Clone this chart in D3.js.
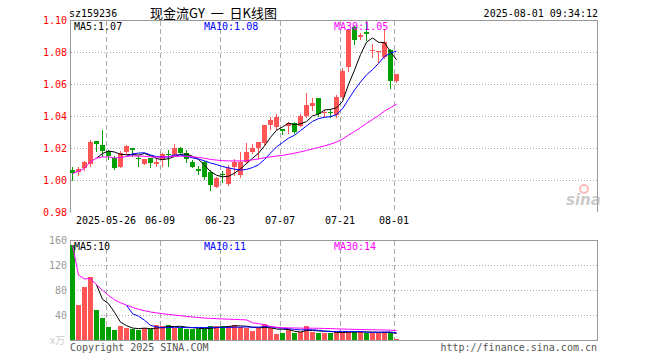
<!DOCTYPE html>
<html>
<head>
<meta charset="utf-8">
<script src="https://cdn.jsdelivr.net/npm/d3@7"></script>
<style>
  body { margin: 0; background: #fff; }
  svg { display: block; font-family: "DejaVu Sans Mono", monospace; }
</style>
</head>
<body>
<svg id="chart" width="660" height="360"></svg>
<script>
// daily candles, index 0 = first trading day shown
var opens  = [1.006,1.005,1.007,1.010,1.0245,1.022,1.018,1.014,1.008,1.017,
              1.020,1.0135,1.010,1.0135,1.010,1.012,1.016,1.0155,1.020,1.017,
              1.0115,1.007,1.0115,1.005,0.996,1.0038,0.998,1.0083,1.0027,1.0115,
              1.0177,1.020,1.0233,1.0348,1.0335,1.0317,1.0333,1.0354,1.034,1.040,
              1.0464,1.051,1.042,1.0425,1.0406,1.052,1.0706,1.0955,1.0895,1.0925,
              1.0808,1.080,1.077,1.081,1.0615];
var highs  = [1.008,1.008,1.012,1.025,1.0245,1.031,1.019,1.015,1.018,1.022,
              1.020,1.015,1.013,1.014,1.013,1.017,1.019,1.0225,1.0205,1.019,
              1.0125,1.0085,1.012,1.0063,1.002,1.0055,1.0094,1.013,1.0177,1.023,
              1.0223,1.024,1.0345,1.0395,1.041,1.032,1.0364,1.036,1.0415,1.0546,
              1.051,1.0515,1.0438,1.0444,1.053,1.0698,1.0944,1.0965,1.092,1.0994,
              1.0848,1.0805,1.094,1.082,1.066];
var lows   = [1.000,1.003,1.006,1.009,1.018,1.015,1.013,1.007,1.008,1.016,
              1.015,1.009,1.010,1.008,1.009,1.009,1.009,1.0155,1.0165,1.011,
              1.008,1.004,1.0005,0.994,0.9955,0.999,0.997,1.003,1.002,1.0105,
              1.0167,1.014,1.0228,1.032,1.032,1.029,1.0296,1.0295,1.0335,1.0395,
              1.0438,1.040,1.0396,1.0396,1.0396,1.051,1.068,1.085,1.088,1.0875,
              1.077,1.074,1.076,1.0573,1.061];
var closes = [1.004,1.007,1.011,1.024,1.0225,1.018,1.015,1.008,1.017,1.021,
              1.019,1.0128,1.013,1.0105,1.0115,1.016,1.0155,1.020,1.017,1.013,
              1.0085,1.006,1.002,0.997,1.0015,1.0035,1.0077,1.0115,1.011,1.0177,
              1.020,1.0235,1.0344,1.0378,1.0395,1.0305,1.0354,1.0298,1.040,1.0469,
              1.0483,1.041,1.0425,1.042,1.052,1.068,1.0938,1.0875,1.0905,1.091,
              1.081,1.0805,1.0865,1.0615,1.066];
// volume in 万
var volumes = [152,56,85,101,48,36,21,16,22,20,
               17,16,20,18,24,22,24,20,20,17,
               18,18,18,22,23,22,23,24,21,20,
               14,19,26,19,10,12,17,12,13,22,
               13,12,11,12,13,13,13,13,13,12,
               12,12,13,13,1.6];

var dateTicks = ["2025-05-26","06-09","06-23","07-07","07-21","08-01"];
var dateTickIdx = [6,15,25,35,45,54];
var priceTicks = [1.10,1.08,1.06,1.04,1.02,1.00,0.98];
var volTicks = [160,120,80,40];
var maLabels = ["MA5:1.07","MA10:1.08","MA30:1.05"];
var volMaLabels = ["MA5:10","MA10:11","MA30:14"];

var RED = "#ff5555", GREEN = "#00a000";
var maColors = ["#000000","#0000ff","#ff00ff"];

var svg = d3.select("#chart");

var x = d3.scaleLinear().domain([0, 88]).range([70, 598]);
var yPrice = d3.scaleLinear().domain([0.98, 1.10]).range([212, 20]);
var yVol = d3.scaleLinear().domain([0, 160]).range([340, 240]);

// average of the last n values; MA30 uses what is available at the start
function movingAvg(arr, n, fromStart) {
  return arr.map(function (d, i) {
    if (i < n - 1 && !fromStart) return null;
    return d3.mean(arr.slice(Math.max(0, i - n + 1), i + 1));
  });
}

function isUp(i) { return closes[i] >= opens[i]; }

drawFrames();
drawCandles();
drawVolume();
drawTexts();

function drawFrames() {
  var g = svg.append("g").attr("shape-rendering", "crispEdges");

  // horizontal dotted grid
  g.selectAll(".pgrid")
    .data(priceTicks.slice(1, 6))
    .enter()
    .append("line")
    .attr("x1", 71).attr("x2", 597)
    .attr("y1", (d) => Math.round(yPrice(d)) + 0.5)
    .attr("y2", (d) => Math.round(yPrice(d)) + 0.5)
    .attr("stroke", "#aaa")
    .attr("stroke-dasharray", "1,2");

  g.selectAll(".vgrid")
    .data(volTicks.slice(1))
    .enter()
    .append("line")
    .attr("x1", 71).attr("x2", 597)
    .attr("y1", (d) => Math.round(yVol(d)) + 0.5)
    .attr("y2", (d) => Math.round(yVol(d)) + 0.5)
    .attr("stroke", "#aaa")
    .attr("stroke-dasharray", "1,2");

  // dashed vertical lines at date ticks
  [[21, 212], [241, 340]].forEach(function (r) {
    g.selectAll(null)
      .data(dateTickIdx)
      .enter()
      .append("line")
      .attr("x1", (d) => Math.round(x(d)) + 0.5)
      .attr("x2", (d) => Math.round(x(d)) + 0.5)
      .attr("y1", r[0]).attr("y2", r[1])
      .attr("stroke", "#aaa")
      .attr("stroke-dasharray", "5,3");
  });

  // price frame (top, left, right)
  g.append("path")
    .attr("d", "M70.5,212V20.5H597.5V212")
    .attr("fill", "none")
    .attr("stroke", "#999");

  // volume frame
  g.append("rect")
    .attr("x", 70.5).attr("y", 240.5)
    .attr("width", 527).attr("height", 100)
    .attr("fill", "none")
    .attr("stroke", "#999");

  // sina watermark
  var w = svg.append("g").attr("opacity", 0.6);
  w.append("circle").attr("cx", 584).attr("cy", 189).attr("r", 4)
    .attr("fill", "none").attr("stroke", "#ff9090").attr("stroke-width", 2);
  w.append("text").attr("x", 566).attr("y", 205)
    .style("font-family", "'DejaVu Sans', sans-serif")
    .style("font-size", "15px").style("font-style", "italic").style("font-weight", "bold")
    .attr("fill", "#aaa").text("sina");
}

function drawCandles() {
  var idx = d3.range(closes.length);
  var g = svg.append("g").attr("shape-rendering", "crispEdges");

  g.selectAll(".wick")
    .data(idx)
    .enter()
    .append("line")
    .attr("x1", (i) => Math.round(x(i)) + 2.5)
    .attr("x2", (i) => Math.round(x(i)) + 2.5)
    .attr("y1", (i) => Math.round(yPrice(highs[i])))
    .attr("y2", (i) => Math.round(yPrice(lows[i])) + 1)
    .attr("stroke", (i) => isUp(i) ? RED : GREEN);

  g.selectAll(".body")
    .data(idx)
    .enter()
    .append("rect")
    .attr("x", (i) => Math.round(x(i)))
    .attr("width", 5)
    .attr("y", (i) => Math.round(yPrice(Math.max(opens[i], closes[i]))))
    .attr("height", (i) => Math.max(1, Math.round(Math.abs(yPrice(opens[i]) - yPrice(closes[i])))))
    .attr("fill", (i) => isUp(i) ? RED : GREEN);

  var mas = [movingAvg(closes, 5), movingAvg(closes, 10), movingAvg(closes, 30, true)];
  var line = d3.line()
    .defined((d) => d != null)
    .x((d, i) => Math.round(x(i)) + 2.5)
    .y((d) => yPrice(d));
  mas.forEach(function (m, k) {
    svg.append("path")
      .attr("d", line(m))
      .attr("fill", "none")
      .attr("stroke", maColors[k])
      .attr("stroke-width", 1);
  });
}

function drawVolume() {
  var idx = d3.range(volumes.length);
  svg.append("g").attr("shape-rendering", "crispEdges")
    .selectAll("rect")
    .data(idx)
    .enter()
    .append("rect")
    .attr("x", (i) => Math.round(x(i)))
    .attr("width", 5)
    .attr("y", (i) => Math.round(yVol(volumes[i])))
    .attr("height", (i) => 340 - Math.round(yVol(volumes[i])))
    .attr("fill", (i) => isUp(i) ? RED : GREEN);

  var mas = [movingAvg(volumes, 5), movingAvg(volumes, 10), movingAvg(volumes, 30, true)];
  var line = d3.line()
    .defined((d) => d != null)
    .x((d, i) => Math.round(x(i)) + 2.5)
    .y((d) => yVol(d));
  mas.forEach(function (m, k) {
    svg.append("path")
      .attr("d", line(m))
      .attr("fill", "none")
      .attr("stroke", maColors[k])
      .attr("stroke-width", 1);
  });
}

function drawTexts() {
  var fs = "10px";

  svg.append("text").attr("x", 69).attr("y", 17).style("font-size", fs).text("sz159236");
  svg.append("text").attr("x", 150).attr("y", 18)
    .style("font-family", "'Noto Sans CJK SC', sans-serif")
    .style("font-size", "13px")
    .style("white-space", "pre")
    .text("现金流GY  一  日K线图");
  svg.append("text").attr("x", 598).attr("y", 17).attr("text-anchor", "end")
    .style("font-size", fs).text("2025-08-01 09:34:12");

  // price axis labels
  svg.selectAll(".plabel")
    .data(priceTicks)
    .enter()
    .append("text")
    .attr("x", 67)
    .attr("y", (d) => yPrice(d) + 4)
    .attr("text-anchor", "end")
    .style("font-size", fs)
    .attr("fill", "#ff0000")
    .text((d) => d.toFixed(2));

  // volume axis labels
  svg.selectAll(".vlabel")
    .data(volTicks)
    .enter()
    .append("text")
    .attr("x", 67)
    .attr("y", (d) => yVol(d) + 4)
    .attr("text-anchor", "end")
    .style("font-size", fs)
    .attr("fill", "#999")
    .text((d) => d);
  svg.append("text").attr("x", 50).attr("y", 344)
    .style("font-family", "'Noto Sans CJK SC', sans-serif")
    .style("font-size", "10px").attr("fill", "#ccc").text("x万");

  // date labels
  svg.selectAll(".dlabel")
    .data(dateTicks)
    .enter()
    .append("text")
    .attr("x", (d, i) => Math.round(x(dateTickIdx[i])))
    .attr("y", 224)
    .attr("text-anchor", "middle")
    .style("font-size", fs)
    .attr("fill", "#000")
    .text((d) => d);

  // MA legends
  var maX = [74, 204, 334];
  maLabels.forEach(function (t, k) {
    svg.append("text").attr("x", maX[k]).attr("y", 30)
      .style("font-size", fs).attr("fill", maColors[k]).text(t);
  });
  volMaLabels.forEach(function (t, k) {
    svg.append("text").attr("x", maX[k]).attr("y", 250)
      .style("font-size", fs).attr("fill", maColors[k]).text(t);
  });

  svg.append("text").attr("x", 70).attr("y", 351)
    .style("font-size", fs).attr("fill", "#555").text("Copyright 2025 SINA.COM");
  svg.append("text").attr("x", 597).attr("y", 351).attr("text-anchor", "end")
    .style("font-size", fs).attr("fill", "#555").text("http://finance.sina.com.cn");
}
</script>
</body>
</html>
